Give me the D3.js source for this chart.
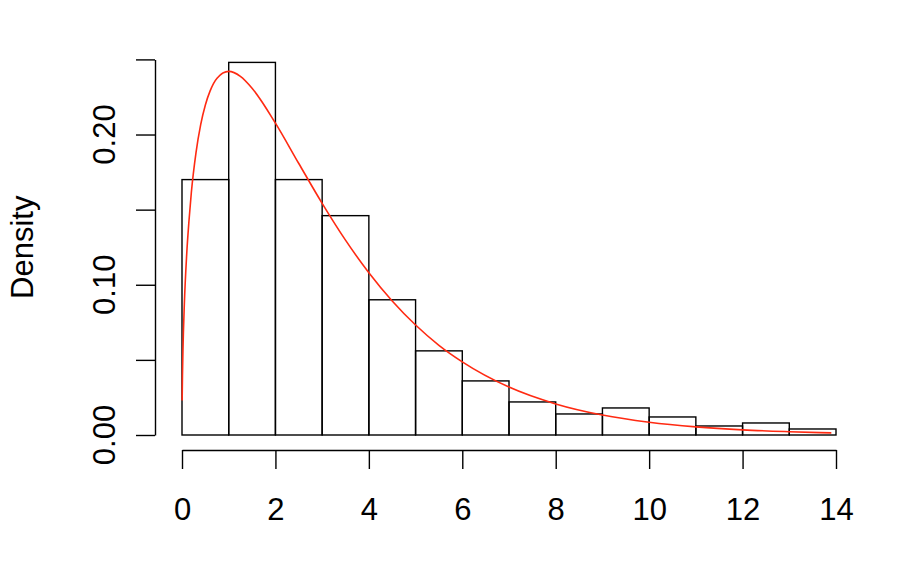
<!DOCTYPE html>
<html>
<head>
<meta charset="utf-8">
<script src="https://cdn.jsdelivr.net/npm/d3@7"></script>
<style>
  html, body { margin: 0; padding: 0; background: #fff; }
  svg text { font-family: "Liberation Sans", Arial, Helvetica, sans-serif; fill: #000; }
</style>
</head>
<body>
<div id="chart"></div>
<script>
// Histogram bins (density per unit-width bin)
const binStarts = [0, 1, 2, 3, 4, 5, 6, 7, 8, 9, 10, 11, 12, 13];
const binDensity = [0.170, 0.248, 0.170, 0.146, 0.090, 0.056, 0.036, 0.022, 0.014, 0.018, 0.012, 0.006, 0.008, 0.004];

// Red density curve
const curveX = [0.003, 0.01, 0.02, 0.05, 0.1, 0.15, 0.2, 0.3, 0.4, 0.5, 0.6, 0.75, 1, 1.25, 1.5, 2, 2.5, 3, 3.5, 4, 4.5, 5, 5.5, 6, 7, 8, 9, 10, 11, 12, 13, 13.9];
const curveY = [0.023, 0.0396, 0.0558, 0.087, 0.120, 0.1428, 0.1614, 0.188, 0.2066, 0.2197, 0.2289, 0.2375, 0.2420, 0.2387, 0.2308, 0.2076, 0.1807, 0.1542, 0.1297, 0.1080, 0.0892, 0.0732, 0.0597, 0.0487, 0.0319, 0.0207, 0.0133, 0.0085, 0.0054, 0.0034, 0.0022, 0.0014];

// Axis ticks
const xTicks = [0, 2, 4, 6, 8, 10, 12, 14];
const yTicks = [0, 0.05, 0.10, 0.15, 0.20, 0.25];
const yLabelTicks = [0, 0.10, 0.20];

const width = 910, height = 564;

const svg = d3.select('#chart')
  .append('svg')
  .attr('width', width)
  .attr('height', height);

const x = d3.scaleLinear().domain([0, 14]).range([182, 836]);
const y = d3.scaleLinear().domain([0, 0.25]).range([435, 59.4]);

// Bars
svg.append('g')
  .selectAll('rect')
  .data(binStarts.map((s, i) => ({ s, d: binDensity[i] })))
  .join('rect')
  .attr('x', d => x(d.s))
  .attr('y', d => y(d.d))
  .attr('width', d => x(d.s + 1) - x(d.s))
  .attr('height', d => y(0) - y(d.d))
  .attr('fill', 'none')
  .attr('stroke', '#000')
  .attr('stroke-width', 1.4);

// Curve
const line = d3.line()
  .x(d => x(d[0]))
  .y(d => y(d[1]))
  .curve(d3.curveMonotoneX);

svg.append('path')
  .datum(curveX.map((v, i) => [v, curveY[i]]))
  .attr('d', line)
  .attr('fill', 'none')
  .attr('stroke', '#ff2a12')
  .attr('stroke-width', 1.6);

// x-axis
const xAxis = svg.append('g')
  .attr('transform', 'translate(0,450)')
  .call(d3.axisBottom(x).tickValues(xTicks).tickSize(19).tickSizeOuter(0).tickPadding(0).tickFormat(d3.format('d')));
xAxis.select('.domain').attr('stroke-width', 1.4);
xAxis.selectAll('.tick line').attr('stroke-width', 1.4);
xAxis.selectAll('.tick text')
  .attr('y', 70)
  .attr('dy', null)
  .style('font-size', '31px')
  .style('font-family', '"Liberation Sans", Arial, sans-serif');

// y-axis
const yAxis = svg.append('g')
  .attr('transform', 'translate(155,0)')
  .call(d3.axisLeft(y).tickValues(yTicks).tickSize(19).tickSizeOuter(0).tickFormat(''));
yAxis.select('.domain').attr('stroke-width', 1.4);
yAxis.selectAll('.tick line').attr('stroke-width', 1.4);

svg.append('g')
  .selectAll('text')
  .data(yLabelTicks)
  .join('text')
  .attr('transform', d => `translate(115,${y(d)}) rotate(-90)`)
  .attr('text-anchor', 'middle')
  .style('font-size', '31px')
  .text(d => d3.format('.2f')(d));

// y-axis title
svg.append('text')
  .attr('transform', `translate(33,${(y(0) + y(0.25)) / 2}) rotate(-90)`)
  .attr('text-anchor', 'middle')
  .style('font-size', '31px')
  .text('Density');
</script>
</body>
</html>
